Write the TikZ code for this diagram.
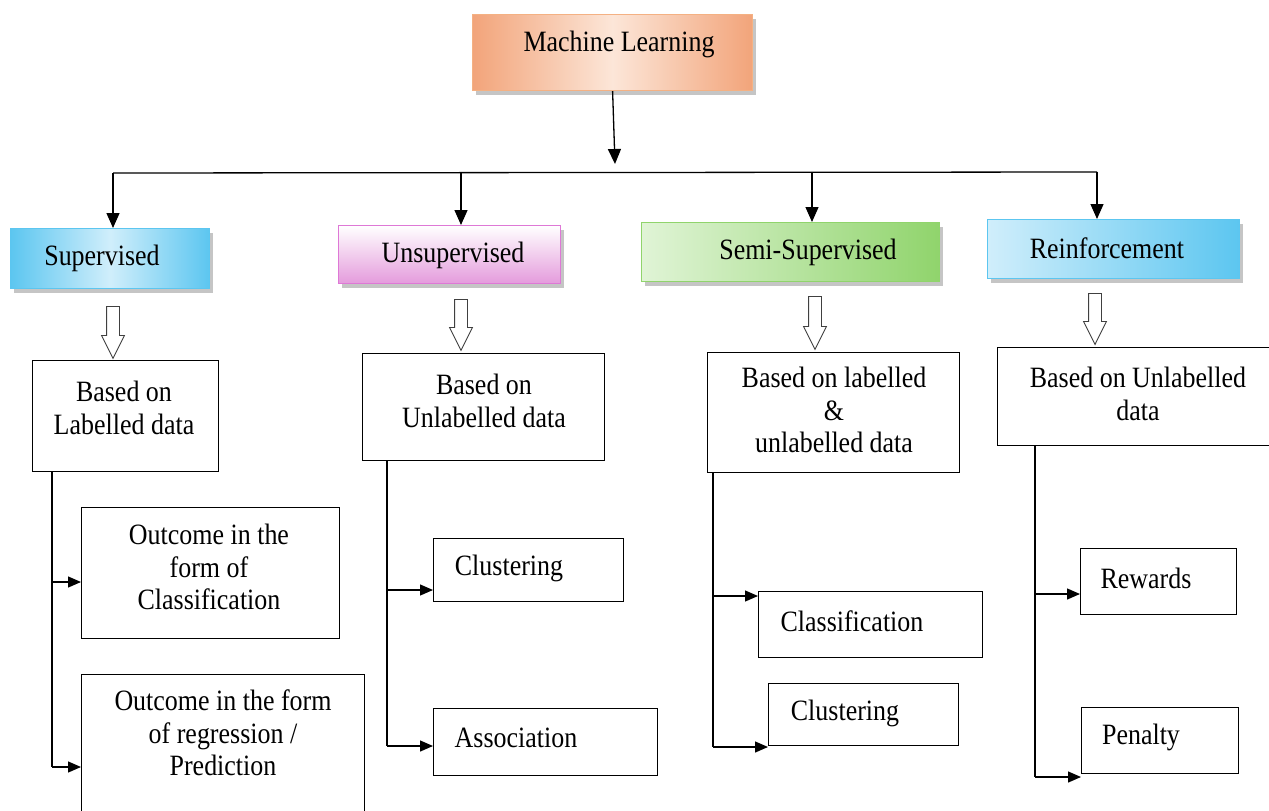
\documentclass[tikz,border=0pt]{standalone}
\usepackage{fontspec}
\setmainfont{Liberation Serif}[FakeStretch=0.88]
\usetikzlibrary{arrows.meta,shapes.arrows,shadows}
\definecolor{mlD}{HTML}{F2A47A}
\definecolor{mlL}{HTML}{FCE6D8}
\definecolor{mlB}{HTML}{F4B183}
\definecolor{blD}{HTML}{5CC6F0}
\definecolor{blL}{HTML}{D0EEFB}
\definecolor{pkD}{HTML}{E49BDC}
\definecolor{pkB}{HTML}{DE78D6}
\definecolor{grD}{HTML}{90D46C}
\definecolor{grL}{HTML}{E0F4D6}
\begin{document}
\begin{tikzpicture}[x=1pt,y=-1pt,
  txt/.style={font=\fontsize{29.5}{32.5}\selectfont, align=center, inner sep=0pt},
  wbox/.style={draw=black, line width=1.2pt, fill=white, inner sep=0pt, anchor=north west},
  cbox/.style={line width=1.2pt, inner sep=0pt, anchor=north west,
    drop shadow={shadow xshift=3pt, shadow yshift=-4pt, fill=black!50, opacity=.45}},
  conn/.style={line width=1.3pt, draw=black},
  tipL/.style={conn, -{Triangle[length=15pt,width=13pt]}},
  tipS/.style={conn, -{Triangle[length=13pt,width=11pt]}},
  hollow/.style={single arrow, draw=black!75, fill=white, line width=0.9pt,
    inner sep=6pt, single arrow head extend=5pt, single arrow tip angle=53,
    shape border rotate=270}]
\useasboundingbox (0,0) rectangle (1269,811);
\fill[white] (0,0) rectangle (1269,811);
\clip (0,0) rectangle (1269,811);

% level 1
\node[cbox, draw=mlB, left color=mlD, right color=mlD, middle color=mlL,
  minimum width=280pt, minimum height=76pt] (ml) at (472,14) {};
\node[txt] (mlt) at (619,44) {Machine Learning};

% level 2
\node[cbox, draw=blD, left color=blD, right color=blD, middle color=blL,
  minimum width=199pt, minimum height=60pt] (sup) at (10,228) {};
\node[txt] (supt) at (102,258) {Supervised};
\node[cbox, draw=pkB, top color=white, bottom color=pkD,
  minimum width=222pt, minimum height=58pt] (uns) at (338,225) {};
\node[txt] (unst) at (453,255) {Unsupervised};
\node[cbox, draw=grD, left color=grL, right color=grD,
  minimum width=298pt, minimum height=59pt] (semi) at (641,222) {};
\node[txt] (semit) at (808,252) {Semi-Supervised};
\node[cbox, draw=blD, left color=blL, right color=blD,
  minimum width=252pt, minimum height=59pt] (rein) at (987,219) {};
\node[txt] (reint) at (1107,248) {Reinforcement};

% hollow arrows
\node[hollow, minimum height=52pt] (h1) at (113,326) {};
\node[hollow, minimum height=51pt] (h2) at (461,318.5) {};
\node[hollow, minimum height=53pt] (h3) at (815,316.5) {};
\node[hollow, minimum height=51pt] (h4) at (1095,312.5) {};

% level 3
\node[wbox, minimum width=186pt, minimum height=111pt] (b1) at (32,360) {};
\node[txt] (b1t) at (124,408) {Based on\\Labelled data};
\node[wbox, minimum width=242pt, minimum height=107pt] (b2) at (362,353) {};
\node[txt] (b2t) at (484,401) {Based on\\Unlabelled data};
\node[wbox, minimum width=252pt, minimum height=120pt] (b3) at (707,352) {};
\node[txt] (b3t) at (834,410) {Based on labelled\\\&\\unlabelled data};
\node[wbox, minimum width=272pt, minimum height=98pt] (b4) at (997,347) {};
\node[txt] (b4t) at (1138,394) {Based on Unlabelled\\data};

% level 4
\node[wbox, minimum width=258pt, minimum height=131pt] (o1) at (81,507) {};
\node[txt] (o1t) at (209,567) {Outcome in the\\form of\\Classification};
\node[wbox, minimum width=283pt, minimum height=160pt] (o2) at (81,674) {};
\node[txt] (o2t) at (223,733) {Outcome in the form\\of regression /\\Prediction};

\node[wbox, minimum width=190pt, minimum height=63pt] (c1) at (433,538) {};
\node[txt] (c1t) at (509,568) {Clustering};
\node[wbox, minimum width=224pt, minimum height=67pt] (a1) at (433,708) {};
\node[txt] (a1t) at (516,738) {Association};

\node[wbox, minimum width=224pt, minimum height=66pt] (c2) at (758,591) {};
\node[txt] (c2t) at (852,621) {Classification};
\node[wbox, minimum width=190pt, minimum height=62pt] (cl2) at (768,683) {};
\node[txt] (cl2t) at (845,713) {Clustering};

\node[wbox, minimum width=156pt, minimum height=66pt] (rw) at (1080,548) {};
\node[txt] (rwt) at (1146,578) {Rewards};
\node[wbox, minimum width=157pt, minimum height=66pt] (pn) at (1081,707) {};
\node[txt] (pnt) at (1141,737) {Penalty};

% top connectors
\coordinate (mlend) at (615,164);
\coordinate (j1) at (113,173);
\coordinate (j2) at (461,173);
\coordinate (j3) at (812,172);
\coordinate (j4) at (1097,172);
\draw[tipL] (ml.south) -- (mlend);
\draw[conn] (j1) -- (j4);
\draw[tipL] (j1) -- (j1 |- sup.north);
\draw[tipL] (j2) -- (j2 |- uns.north);
\draw[tipL] (j3) -- (j3 |- semi.north);
\draw[tipL] (j4) -- (j4 |- rein.north);

% trunks
\coordinate (s1) at (52,582);
\coordinate (s2) at (52,767);
\draw[conn] (b1.south -| s1) -- (s2);
\draw[tipS] (s1) -- (s1 -| o1.west);
\draw[tipS] (s2) -- (s2 -| o2.west);

\coordinate (u1) at (387,590);
\coordinate (u2) at (387,746);
\draw[conn] (b2.south -| u1) -- (u2);
\draw[tipS] (u1) -- (u1 -| c1.west);
\draw[tipS] (u2) -- (u2 -| a1.west);

\coordinate (m1) at (713,596);
\coordinate (m2) at (713,747);
\draw[conn] (b3.south -| m1) -- (m2);
\draw[tipS] (m1) -- (m1 -| c2.west);
\draw[tipS] (m2) -- (m2 -| cl2.west);

\coordinate (r1) at (1035,594);
\coordinate (r2) at (1035,777);
\draw[conn] (b4.south -| r1) -- (r2);
\draw[tipS] (r1) -- (r1 -| rw.west);
\draw[tipS] (r2) -- (r2 -| pn.west);
\end{tikzpicture}
\end{document}
